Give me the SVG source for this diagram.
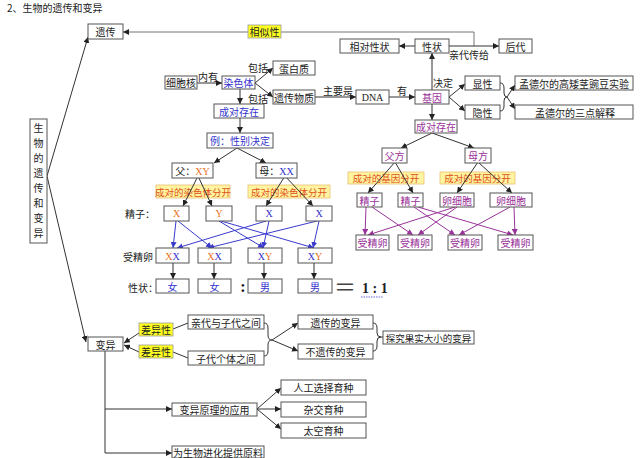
<svg xmlns="http://www.w3.org/2000/svg" width="640" height="458" viewBox="0 0 640 458">
<style>
.b{fill:#fff;stroke:#555;stroke-width:1}
.t{font-family:"Noto Sans CJK SC","Noto Sans",sans-serif;font-size:10px;fill:#222;text-anchor:middle;dominant-baseline:central}
.s{text-anchor:start}
.bl{fill:#3333cc}
.pu{fill:#993399}
.or{fill:#e8701c}
.ot{fill:#e0501a;font-size:9.5px}
.se{font-family:"Liberation Serif",serif}
.yl{fill:#ffff22;stroke:#999;stroke-width:0.8}
.py{fill:#fff4a0;stroke:#e8c070;stroke-width:0.8}
.c{fill:none;stroke:#333;stroke-width:1}
.cg{fill:none;stroke:#777;stroke-width:1}
.cb{fill:none;stroke:#3a3acc;stroke-width:1}
.cp{fill:none;stroke:#993399;stroke-width:1}
</style>
<defs>
<marker id="ak" viewBox="0 0 10 10" refX="10" refY="5" markerWidth="6" markerHeight="6" orient="auto" markerUnits="userSpaceOnUse"><path d="M0,0 L10,5 L0,10 z" fill="#222"/></marker>
<marker id="ab" viewBox="0 0 10 10" refX="10" refY="5" markerWidth="6" markerHeight="6" orient="auto" markerUnits="userSpaceOnUse"><path d="M0,0 L10,5 L0,10 z" fill="#3a3acc"/></marker>
<marker id="ap" viewBox="0 0 10 10" refX="10" refY="5" markerWidth="6" markerHeight="6" orient="auto" markerUnits="userSpaceOnUse"><path d="M0,0 L10,5 L0,10 z" fill="#993399"/></marker>
</defs>
<rect width="640" height="458" fill="#fff"/>
<text class="t s" x="7" y="7">2、生物的遗传和变异</text>

<!-- yellow labels drawn beneath connectors -->
<g id="lbl-fenkai1"><rect class="py" x="156" y="185" width="74" height="13"/><text class="t ot" x="193" y="191.5">成对的染色体分开</text></g>
<g id="lbl-fenkai2"><rect class="py" x="248" y="185" width="82" height="13"/><text class="t ot" x="289" y="191.5">成对的染色体分开</text></g>
<g id="lbl-jiyin1"><rect class="py" x="348" y="172" width="76" height="12"/><text class="t ot" x="386" y="178">成对的基因分开</text></g>
<g id="lbl-jiyin2"><rect class="py" x="440" y="172" width="75" height="12"/><text class="t ot" x="477.5" y="178">成对的基因分开</text></g>

<g id="connectors">
<path class="c" d="M47,176 L88,37" marker-end="url(#ak)"/>
<path class="c" d="M47,176 L86,342" marker-end="url(#ak)"/>
<path class="cg" d="M474,46 L474,32 L123,32" marker-end="url(#ak)"/>
<path class="c" d="M415,46 L399,46" marker-end="url(#ak)"/>
<path class="c" d="M449,46 L499,46" marker-end="url(#ak)"/>
<path class="c" d="M432,90 L432,53" marker-end="url(#ak)"/>
<path class="c" d="M389,97 L415,97" marker-end="url(#ak)"/>
<path class="c" d="M315,97 L356,97" marker-end="url(#ak)"/>
<path class="c" d="M197,83 L222,83" marker-end="url(#ak)"/>
<path class="c" d="M255,83 L273,68" marker-end="url(#ak)"/>
<path class="c" d="M255,83 L273,97" marker-end="url(#ak)"/>
<path class="c" d="M240,89 L240,104" marker-end="url(#ak)"/>
<path class="c" d="M240,118 L240,133" marker-end="url(#ak)"/>
<path class="c" d="M237,148 L214,163" marker-end="url(#ak)"/>
<path class="c" d="M237,148 L266,163" marker-end="url(#ak)"/>
<path class="c" d="M198,176 L183,206" marker-end="url(#ak)"/>
<path class="c" d="M198,176 L212,206" marker-end="url(#ak)"/>
<path class="c" d="M285,176 L266,206" marker-end="url(#ak)"/>
<path class="c" d="M285,176 L313,206" marker-end="url(#ak)"/>
<path class="cb" d="M176,221 L173,248" marker-end="url(#ab)"/>
<path class="cb" d="M178,221 L212,248" marker-end="url(#ab)"/>
<path class="cb" d="M219,221 L264,248" marker-end="url(#ab)"/>
<path class="cb" d="M221,221 L314,248" marker-end="url(#ab)"/>
<path class="cb" d="M266,221 L177,248" marker-end="url(#ab)"/>
<path class="cb" d="M269,221 L263,248" marker-end="url(#ab)"/>
<path class="cb" d="M317,221 L208,248" marker-end="url(#ab)"/>
<path class="cb" d="M319,221 L313,248" marker-end="url(#ab)"/>
<path class="c" d="M173,263 L173,279" marker-end="url(#ak)"/>
<path class="c" d="M214,263 L214,279" marker-end="url(#ak)"/>
<path class="c" d="M264,263 L264,279" marker-end="url(#ak)"/>
<path class="c" d="M314,263 L314,279" marker-end="url(#ak)"/>
<path class="c" d="M432,104 L432,120" marker-end="url(#ak)"/>
<path class="c" d="M432,133 L401,148" marker-end="url(#ak)"/>
<path class="c" d="M432,133 L474,148" marker-end="url(#ak)"/>
<path class="c" d="M395,162 L368,193" marker-end="url(#ak)"/>
<path class="c" d="M395,162 L413,193" marker-end="url(#ak)"/>
<path class="c" d="M478,162 L457,193" marker-end="url(#ak)"/>
<path class="c" d="M478,162 L512,193" marker-end="url(#ak)"/>
<path class="cp" d="M366,207 L365,235" marker-end="url(#ap)"/>
<path class="cp" d="M372,207 L413,235" marker-end="url(#ap)"/>
<path class="cp" d="M414,207 L455,235" marker-end="url(#ap)"/>
<path class="cp" d="M418,207 L513,235" marker-end="url(#ap)"/>
<path class="cp" d="M455,207 L368,235" marker-end="url(#ap)"/>
<path class="cp" d="M457,207 L418,235" marker-end="url(#ap)"/>
<path class="cp" d="M510,207 L459,235" marker-end="url(#ap)"/>
<path class="cp" d="M514,207 L515,235" marker-end="url(#ap)"/>
<path class="c" d="M449,97 L465,84" marker-end="url(#ak)"/>
<path class="c" d="M449,97 L465,111" marker-end="url(#ak)"/>
<path class="c" d="M500,83 Q504,83 504,88 L504,93 Q504,97 507,97 Q504,97 504,101 L504,106 Q504,111 500,111"/>
<path class="c" d="M507,97 L515,85" marker-end="url(#ak)"/>
<path class="c" d="M507,97 L515,109" marker-end="url(#ak)"/>
<path class="c" d="M188,323 L173,329 M139,333 L124,343" marker-end="url(#ak)"/>
<path class="c" d="M188,358 L173,352 M139,352 L124,345" marker-end="url(#ak)"/>
<path class="c" d="M264,323 Q268,323 268,328 L268,335 Q268,340 272,340 Q268,340 268,345 L268,351 Q268,356 264,356"/>
<path class="c" d="M272,340 L298,323" marker-end="url(#ak)"/>
<path class="c" d="M272,340 L298,351" marker-end="url(#ak)"/>
<path class="c" d="M373,323 Q377,323 377,328 L377,333 Q377,337 381,337 Q377,337 377,341 L377,346 Q377,351 373,351 M381,337 L383,337"/>
<path class="c" d="M105,351 L105,453 L172,453" marker-end="url(#ak)"/>
<path class="c" d="M105,409 L172,409" marker-end="url(#ak)"/>
<path class="c" d="M257,409 L281,388" marker-end="url(#ak)"/>
<path class="c" d="M257,409 L281,409" marker-end="url(#ak)"/>
<path class="c" d="M257,409 L281,429" marker-end="url(#ak)"/>
</g>

<!-- edge labels -->
<g id="edge-labels">
<g id="lbl-xiangsi"><rect class="yl" x="248" y="25" width="33" height="13"/><text class="t" x="264.5" y="31.5">相似性</text></g>
<text class="t s" x="449" y="54">亲代传给</text>
<text class="t s" x="433" y="82">决定</text>
<text class="t" x="402" y="90">有</text>
<text class="t" x="338" y="90">主要是</text>
<text class="t" x="208" y="76">内有</text>
<text class="t" x="258" y="67">包括</text>
<text class="t" x="258" y="98">包括</text>
<text class="t s" x="125" y="213.5">精子：</text>
<text class="t s" x="123" y="256">受精卵</text>
<text class="t s" x="128" y="287">性状：</text>
<text class="t se" x="243" y="286" style="font-size:16px;font-weight:bold;fill:#111">:</text>
<text class="t" x="345" y="285" style="font-size:22px;fill:#444">＝</text>
<text class="t s se" x="362" y="288" style="font-size:14px;font-weight:bold;fill:#222">1 : 1</text>
<path d="M361,297 L383,297" stroke="#6a6ae0" stroke-width="1" stroke-dasharray="1.5,1"/>
<g id="lbl-chayi1"><rect class="yl" x="139" y="323" width="34" height="13"/><text class="t" x="156" y="329.5">差异性</text></g>
<g id="lbl-chayi2"><rect class="yl" x="139" y="345" width="34" height="13"/><text class="t" x="156" y="351.5">差异性</text></g>
</g>

<g id="root"><rect class="b" x="30" y="119" width="17" height="124"/>
<text class="t" x="38.5" y="127">生</text><text class="t" x="38.5" y="142">物</text><text class="t" x="38.5" y="157">的</text><text class="t" x="38.5" y="172">遗</text><text class="t" x="38.5" y="187">传</text><text class="t" x="38.5" y="202">和</text><text class="t" x="38.5" y="217">变</text><text class="t" x="38.5" y="232">异</text></g>

<g id="yichuan"><rect class="b" x="88" y="24" width="35" height="15"/><text class="t" x="105.5" y="31.5">遗传</text></g>
<g id="xiangdui"><rect class="b" x="340" y="39" width="59" height="14"/><text class="t" x="369.5" y="46">相对性状</text></g>
<g id="xingzhuang"><rect class="b" x="415" y="39" width="34" height="14"/><text class="t" x="432" y="46">性状</text></g>
<g id="houdai"><rect class="b" x="499" y="39" width="33" height="14"/><text class="t" x="515.5" y="46">后代</text></g>
<g id="jiyin"><rect class="b" x="415" y="90" width="34" height="14"/><text class="t pu" x="432" y="97">基因</text></g>
<g id="dna"><rect class="b" x="356" y="90" width="33" height="14"/><text class="t se" x="372.5" y="97">DNA</text></g>
<g id="yichuanwuzhi"><rect class="b" x="273" y="90" width="42" height="14"/><text class="t" x="294" y="97">遗传物质</text></g>
<g id="danbaizhi"><rect class="b" x="273" y="61" width="42" height="14"/><text class="t" x="294" y="68">蛋白质</text></g>
<g id="ranseti"><rect class="b" x="222" y="76" width="33" height="13"/><text class="t bl" x="238.5" y="82.5">染色体</text></g>
<g id="xibaohe"><rect class="b" x="165" y="76" width="32" height="13"/><text class="t" x="181" y="82.5">细胞核</text></g>
<g id="chengdui1"><rect class="b" x="214" y="104" width="50" height="14"/><text class="t bl" x="239" y="111">成对存在</text></g>
<g id="xingbie"><rect class="b" x="207" y="133" width="66" height="15"/><text class="t bl" x="240" y="140.5">例：性别决定</text></g>
<g id="fu"><rect class="b" x="172" y="163" width="41" height="15"/><text class="t" x="192.5" y="170.5">父：<tspan class="or se">XY</tspan></text></g>
<g id="mu"><rect class="b" x="256" y="163" width="41" height="15"/><text class="t" x="276.5" y="170.5">母：<tspan class="bl se">XX</tspan></text></g>
<g id="jz1"><rect class="b" x="164" y="206" width="25" height="15"/><text class="t or se" x="176.5" y="213.5">X</text></g>
<g id="jz2"><rect class="b" x="206" y="206" width="26" height="15"/><text class="t or se" x="219" y="213.5">Y</text></g>
<g id="lx1"><rect class="b" x="256" y="206" width="26" height="15"/><text class="t bl se" x="269" y="213.5">X</text></g>
<g id="lx2"><rect class="b" x="306" y="206" width="26" height="15"/><text class="t bl se" x="319" y="213.5">X</text></g>
<g id="sj1"><rect class="b" x="156" y="248" width="33" height="15"/><text class="t se" x="172.5" y="255.5"><tspan class="or">X</tspan><tspan class="bl">X</tspan></text></g>
<g id="sj2"><rect class="b" x="198" y="248" width="33" height="15"/><text class="t se" x="214.5" y="255.5"><tspan class="or">X</tspan><tspan class="bl">X</tspan></text></g>
<g id="sj3"><rect class="b" x="248" y="248" width="34" height="15"/><text class="t se" x="265" y="255.5"><tspan class="bl">X</tspan><tspan class="or">Y</tspan></text></g>
<g id="sj4"><rect class="b" x="298" y="248" width="34" height="15"/><text class="t se" x="315" y="255.5"><tspan class="bl">X</tspan><tspan class="or">Y</tspan></text></g>
<g id="xz1"><rect class="b" x="156" y="279" width="33" height="14"/><text class="t bl" x="172.5" y="286">女</text></g>
<g id="xz2"><rect class="b" x="198" y="279" width="33" height="14"/><text class="t bl" x="214.5" y="286">女</text></g>
<g id="xz3"><rect class="b" x="248" y="279" width="34" height="14"/><text class="t bl" x="265" y="286">男</text></g>
<g id="xz4"><rect class="b" x="298" y="279" width="34" height="14"/><text class="t bl" x="315" y="286">男</text></g>

<g id="chengdui2"><rect class="b" x="415" y="120" width="42" height="13"/><text class="t pu" x="436" y="126.5">成对存在</text></g>
<g id="fufang"><rect class="b" x="382" y="148" width="25" height="15"/><text class="t pu" x="394.5" y="155.5">父方</text></g>
<g id="mufang"><rect class="b" x="465" y="148" width="26" height="15"/><text class="t pu" x="478" y="155.5">母方</text></g>
<g id="jingzi1"><rect class="b" x="357" y="193" width="25" height="14"/><text class="t pu" x="369.5" y="200">精子</text></g>
<g id="jingzi2"><rect class="b" x="398" y="193" width="25" height="14"/><text class="t pu" x="410.5" y="200">精子</text></g>
<g id="luan1"><rect class="b" x="440" y="193" width="34" height="14"/><text class="t pu" x="457" y="200">卵细胞</text></g>
<g id="luan2"><rect class="b" x="490" y="193" width="42" height="14"/><text class="t pu" x="511" y="200">卵细胞</text></g>
<g id="sjl1"><rect class="b" x="356" y="235" width="33" height="15"/><text class="t pu" x="372.5" y="242.5">受精卵</text></g>
<g id="sjl2"><rect class="b" x="398" y="235" width="34" height="15"/><text class="t pu" x="415" y="242.5">受精卵</text></g>
<g id="sjl3"><rect class="b" x="448" y="235" width="34" height="15"/><text class="t pu" x="465" y="242.5">受精卵</text></g>
<g id="sjl4"><rect class="b" x="498" y="235" width="35" height="15"/><text class="t pu" x="515.5" y="242.5">受精卵</text></g>
<g id="xianxing"><rect class="b" x="465" y="76" width="35" height="14"/><text class="t" x="482.5" y="83">显性</text></g>
<g id="yinxing"><rect class="b" x="465" y="105" width="35" height="14"/><text class="t" x="482.5" y="112">隐性</text></g>
<g id="mendel1"><rect class="b" x="515" y="76" width="118" height="14"/><text class="t" x="574" y="83">孟德尔的高矮茎豌豆实验</text></g>
<g id="mendel2"><rect class="b" x="515" y="105" width="118" height="14"/><text class="t" x="575" y="112">孟德尔的三点解释</text></g>

<g id="bianyi"><rect class="b" x="88" y="337" width="35" height="14"/><text class="t" x="105.5" y="344">变异</text></g>
<g id="qindai"><rect class="b" x="188" y="315" width="76" height="14"/><text class="t" x="226" y="322">亲代与子代之间</text></g>
<g id="zidai"><rect class="b" x="188" y="351" width="76" height="14"/><text class="t" x="226" y="358">子代个体之间</text></g>
<g id="yichuanbianyi"><rect class="b" x="298" y="315" width="75" height="14"/><text class="t" x="335.5" y="322">遗传的变异</text></g>
<g id="buyichuan"><rect class="b" x="298" y="344" width="75" height="15"/><text class="t" x="335.5" y="351.5">不遗传的变异</text></g>
<g id="tanjiu"><rect class="b" x="383" y="331" width="91" height="13"/><text class="t" x="428.5" y="337.5" style="font-size:9.5px">探究果实大小的变异</text></g>
<g id="yingyong"><rect class="b" x="172" y="403" width="85" height="13"/><text class="t" x="214.5" y="409.5">变异原理的应用</text></g>
<g id="yuanliao"><rect class="b" x="172" y="446" width="92" height="12"/><text class="t" x="218" y="452">为生物进化提供原料</text></g>
<g id="rengong"><rect class="b" x="281" y="380" width="85" height="15"/><text class="t" x="323.5" y="387.5">人工选择育种</text></g>
<g id="zajiao"><rect class="b" x="281" y="402" width="85" height="15"/><text class="t" x="323.5" y="409.5">杂交育种</text></g>
<g id="taikong"><rect class="b" x="281" y="423" width="85" height="15"/><text class="t" x="323.5" y="430.5">太空育种</text></g>
</svg>
